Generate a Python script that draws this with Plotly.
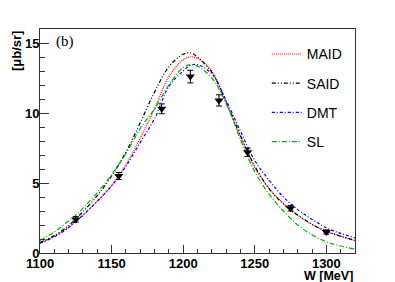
import plotly.graph_objects as go

W = [1100, 1110, 1120, 1125, 1130, 1140, 1150, 1160, 1170, 1180, 1190, 1200, 1205,
     1210, 1220, 1230, 1240, 1250, 1260, 1270, 1280, 1290, 1300, 1310, 1320]
maid = [0.7, 1.2, 1.85, 2.25, 2.7, 3.7, 4.8, 6.3, 8.2, 10.3, 12.6, 13.8, 14.0,
        13.9, 13.0, 10.7, 8.3, 6.1, 4.6, 3.55, 2.7, 2.05, 1.55, 1.2, 0.88]
said = [0.75, 1.25, 1.95, 2.45, 2.95, 4.1, 5.5, 7.2, 9.3, 11.5, 13.3, 14.2, 14.3,
        14.0, 12.9, 10.8, 8.4, 6.2, 4.6, 3.5, 2.7, 2.05, 1.55, 1.2, 0.9]
dmt = [0.7, 1.15, 1.8, 2.3, 2.7, 3.7, 4.8, 6.2, 7.9, 9.6, 11.9, 13.0, 13.4,
       13.45, 12.8, 10.9, 8.7, 6.6, 5.2, 4.0, 3.1, 2.4, 1.8, 1.4, 1.08]
sl = [0.9, 1.5, 2.3, 2.7, 3.2, 4.3, 5.6, 7.1, 8.9, 10.3, 12.0, 13.25, 13.45,
      13.35, 12.5, 10.7, 8.1, 5.8, 4.2, 3.0, 2.0, 1.3, 0.8, 0.5, 0.28]

data_W = [1125, 1155, 1185, 1205, 1225, 1245, 1275, 1300]
data_y = [2.4, 5.5, 10.3, 12.6, 10.9, 7.2, 3.2, 1.5]
data_err = [0.2, 0.25, 0.35, 0.45, 0.4, 0.3, 0.2, 0.15]

fig = go.Figure()
models = [
    ("MAID", maid, "#ff0000", "1px,1px"),
    ("SAID", said, "#000000", "4px,2px,1px,2px,1px,2px"),
    ("DMT", dmt, "#0000ff", "3px,2px,1px,2px"),
    ("SL", sl, "#00b000", "5px,2px,1px,2px"),
]
for i, (name, vals, col, dash) in enumerate(models):
    fig.add_trace(go.Scatter(x=W, y=vals, mode="lines", name=name,
                             line=dict(color=col, width=1.2, dash=dash, shape="spline"),
                             legendgroup=name))

fig.add_trace(go.Scatter(x=data_W, y=data_y, mode="markers", showlegend=False,
                         marker=dict(symbol="triangle-down", size=8, color="black"),
                         error_y=dict(type="data", array=data_err, color="black",
                                      thickness=1, width=3)))

# page body has an 8px default margin, so the figure is drawn 8px smaller
fig.update_layout(
    width=387, height=274,
    margin=dict(l=31.5, r=40, t=20.5, b=29.3),
    paper_bgcolor="white", plot_bgcolor="white",
    font=dict(family="Liberation Sans, Arial, sans-serif", color="black"),
    legend=dict(x=0.72, y=0.958, xanchor="left", yanchor="top",
                font=dict(size=14), tracegroupgap=8, bgcolor="rgba(0,0,0,0)"),
    showlegend=True,
)
fig.update_xaxes(range=[1100, 1320], showgrid=False, zeroline=False,
                 showline=True, linecolor="#333", linewidth=1, mirror=True,
                 ticks="inside", ticklen=8, tickcolor="#333",
                 tickvals=[1100, 1150, 1200, 1250, 1300],
                 tickfont=dict(size=13, weight="bold"), ticklabelstandoff=-2,
                 minor=dict(ticks="inside", ticklen=4, dtick=10, tickcolor="#333"))
fig.update_yaxes(range=[0, 16], showgrid=False, zeroline=False,
                 showline=True, linecolor="#333", linewidth=1, mirror=True,
                 ticks="inside", ticklen=9, tickcolor="#333",
                 tickvals=[0, 5, 10, 15],
                 tickfont=dict(size=13, weight="bold"), ticklabelstandoff=-3,
                 minor=dict(ticks="inside", ticklen=4.5, dtick=1, tickcolor="#333"))

fig.add_annotation(text="W [MeV]", xref="paper", yref="paper", x=1.0, y=0,
                   xanchor="right", yanchor="top", yshift=-13.5, showarrow=False,
                   font=dict(size=12.5, weight="bold"))
fig.add_annotation(text="[μb/sr]", xref="paper", yref="paper", x=0, y=1.0,
                   xanchor="right", yanchor="top", xshift=-14.5, textangle=-90,
                   showarrow=False, font=dict(size=13, weight="bold"))
fig.add_annotation(text="(b)", xref="paper", yref="paper", x=0.045, y=0.945,
                   xanchor="left", yanchor="middle", showarrow=False,
                   font=dict(size=15, family="Liberation Serif, Times New Roman, serif"))

fig.write_html("out.html")
